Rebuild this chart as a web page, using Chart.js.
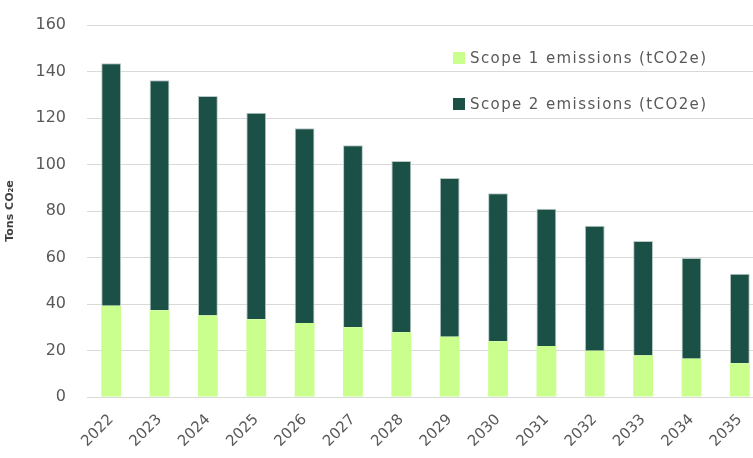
<!DOCTYPE html>
<html lang="en">
<head>
    <meta charset="UTF-8">
    <title>Scope 1 and 2 emissions</title>
    <script src="https://cdn.jsdelivr.net/npm/chart.js"></script>
    <style>
        html, body {
            margin: 0;
            padding: 0;
            background: #ffffff;
            overflow: hidden;
        }
        .wrap {
            width: 764px;
            height: 458px;
        }
    </style>
</head>
<body>
    <div class="wrap">
        <canvas id="emissionsChart"></canvas>
    </div>

    <script>
        const years = ['2022', '2023', '2024', '2025', '2026', '2027', '2028', '2029', '2030', '2031', '2032', '2033', '2034', '2035'];
        const scope1 = [39.3, 37.3, 35.1, 33.4, 31.8, 30.0, 27.8, 25.9, 24.0, 21.9, 19.9, 17.9, 16.5, 14.5];
        const scope2 = [104.2, 98.9, 94.4, 88.9, 83.8, 78.3, 73.7, 68.3, 63.6, 59.1, 53.8, 49.2, 43.3, 38.5];
        const seriesNames = ['Scope 1 emissions (tCO2e)', 'Scope 2 emissions (tCO2e)'];
        const yTicks = [0, 20, 40, 60, 80, 100, 120, 140, 160];

        const fontFamily = '"DejaVu Sans", sans-serif';
        const tickGray = '#595959';

        // legend drawn inside the plot, top right, over the gridlines
        const insideLegend = {
            id: 'insideLegend',
            afterDatasetsDraw(chart) {
                const c = chart.ctx;
                const area = chart.chartArea;
                const x0 = area.left + 366;
                let y = area.top + 33;
                c.save();
                c.font = '15px ' + fontFamily;
                c.letterSpacing = '1.4px';
                c.textBaseline = 'middle';
                chart.data.datasets.forEach(ds => {
                    const w = c.measureText(ds.label).width;
                    c.fillStyle = '#ffffff';
                    c.fillRect(x0 - 4, y - 11, w + 28, 22);
                    c.fillStyle = ds.backgroundColor;
                    c.fillRect(x0, y - 6, 12, 12);
                    c.fillStyle = tickGray;
                    c.fillText(ds.label, x0 + 17, y + 1);
                    y += 46;
                });
                c.restore();
            }
        };

        const ctx = document.getElementById('emissionsChart').getContext('2d');
        new Chart(ctx, {
            type: 'bar',
            data: {
                labels: years,
                datasets: [
                    {
                        label: seriesNames[0],
                        data: scope1,
                        backgroundColor: '#caff8e',
                        barPercentage: 0.41,
                        categoryPercentage: 1
                    },
                    {
                        label: seriesNames[1],
                        data: scope2,
                        backgroundColor: '#1a5045',
                        borderColor: '#b9c9c4',
                        borderWidth: { top: 1, left: 1, right: 1, bottom: 0 },
                        borderSkipped: false,
                        barPercentage: 0.41,
                        categoryPercentage: 1
                    }
                ]
            },
            options: {
                responsive: true,
                maintainAspectRatio: false,
                animation: false,
                layout: { padding: { top: 25, left: 0, right: 0, bottom: 0 } },
                plugins: {
                    legend: { display: false },
                    tooltip: { enabled: false }
                },
                scales: {
                    x: {
                        stacked: true,
                        grid: { display: false },
                        border: { display: true, color: '#d9d9d9', width: 1 },
                        ticks: {
                            color: tickGray,
                            font: { family: fontFamily, size: 15 },
                            minRotation: 45,
                            maxRotation: 45,
                            padding: 6
                        },
                        afterFit(scale) { scale.height = 61; }
                    },
                    y: {
                        stacked: true,
                        min: 0,
                        max: 160,
                        afterBuildTicks(scale) {
                            scale.ticks = yTicks.map(v => ({ value: v }));
                        },
                        grid: {
                            color: '#d9d9d9',
                            drawTicks: true,
                            tickLength: 18,
                            tickColor: 'rgba(0,0,0,0)'
                        },
                        border: { display: false },
                        ticks: {
                            color: tickGray,
                            font: { family: fontFamily, size: 16 },
                            padding: 3
                        },
                        title: {
                            display: true,
                            text: 'Tons CO₂e',
                            color: '#404040',
                            font: { family: fontFamily, size: 11, weight: 'bold' },
                            padding: { top: 4, bottom: 0 }
                        },
                        afterFit(scale) { scale.width = 87; }
                    }
                }
            },
            plugins: [insideLegend]
        });
    </script>
</body>
</html>
